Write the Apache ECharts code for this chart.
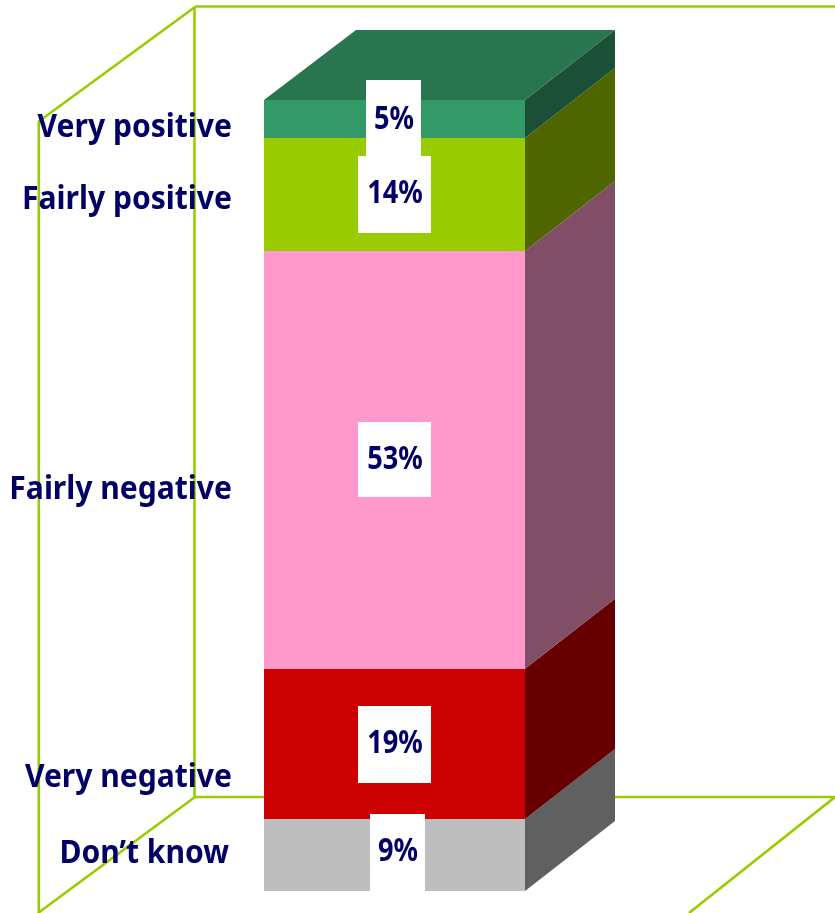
<!DOCTYPE html>
<html>
<head>
<meta charset="utf-8">
<style>
  html, body { margin: 0; padding: 0; background: #fff; }
  #chart { width: 835px; height: 913px; }
</style>
<script src="https://cdn.jsdelivr.net/npm/echarts@6/dist/echarts.min.js"></script>
</head>
<body>
<div id="chart"></div>
<script>
// bottom to top, same order as the stack
const categories = ["Don\u2019t know", "Very negative", "Fairly negative", "Fairly positive", "Very positive"];
// heights, the printed labels are these rounded
const values = [9.1, 19, 52.8, 14.3, 4.8];

const frontColors = ["#BEBEBE", "#CC0000", "#FF99CC", "#99CC00", "#339966"];
const sideColors = ["#606060", "#660000", "#804F66", "#4F6600", "#1C4F38"];
const topColor = "#29754F";
const frameColor = "#99CC00";
const textColor = "#000066";
const fontFamily = '"Noto Sans", sans-serif';

const depthX = 90;
const depthY = 70;

// label placement, picked by eye: they do not sit on the segment centres
const nameRight = [229, 232, 232, 232, 232];
const nameY = [854, 778, 490, 200, 128];
const boxes = [
  { x: 370, y: 814, w: 55, h: 77, textY: 852 },
  { x: 358, y: 706, w: 73, h: 77, textY: 744 },
  { x: 358, y: 422, w: 73, h: 75, textY: 460 },
  { x: 358, y: 156, w: 73, h: 77, textY: 194 },
  { x: 366, y: 80, w: 55, h: 76, textY: 120 }
];

// running totals for the stack
const stackData = [];
let total = 0;
values.forEach((v, i) => {
  stackData.push([i, total, total + v]);
  total += v;
});

function renderSegment(params, api) {
  const i = api.value(0);
  const a = api.coord([0, api.value(1)]);
  const b = api.coord([1, api.value(2)]);
  const children = [
    {
      type: "rect",
      shape: { x: a[0], y: b[1], width: b[0] - a[0], height: a[1] - b[1] },
      style: { fill: frontColors[i] }
    },
    {
      type: "polygon",
      shape: { points: [[b[0], a[1]], [b[0], b[1]], [b[0] + depthX, b[1] - depthY], [b[0] + depthX, a[1] - depthY]] },
      style: { fill: sideColors[i] }
    }
  ];
  if (i === categories.length - 1) {
    children.push({
      type: "polygon",
      shape: { points: [[a[0], b[1]], [b[0], b[1]], [b[0] + depthX, b[1] - depthY], [a[0] + depthX + 2, b[1] - depthY]] },
      style: { fill: topColor }
    });
  }
  return { type: "group", children: children };
}

function renderLabel(params, api) {
  const i = api.value(0);
  const box = boxes[i];
  return {
    type: "group",
    children: [
      {
        type: "rect",
        shape: { x: box.x, y: box.y, width: box.w, height: box.h },
        style: { fill: "#fff" }
      },
      {
        type: "text",
        x: box.x + box.w / 2 + 0.5,
        y: box.textY,
        scaleX: 0.85,
        style: {
          text: Math.round(values[i]) + "%",
          fill: textColor,
          font: "bold 32px " + fontFamily,
          align: "center",
          verticalAlign: "middle"
        }
      },
      {
        type: "text",
        x: nameRight[i],
        y: nameY[i],
        scaleX: 0.94,
        style: {
          text: categories[i],
          fill: textColor,
          font: "bold 32px " + fontFamily,
          align: "right",
          verticalAlign: "middle"
        }
      }
    ]
  };
}

function frameLine(x1, y1, x2, y2) {
  return {
    type: "line",
    silent: true,
    z: 0,
    shape: { x1: x1, y1: y1, x2: x2, y2: y2 },
    style: { stroke: frameColor, lineWidth: 2.6 }
  };
}

const myChart = echarts.init(document.getElementById("chart"), null, { renderer: "canvas" });

myChart.setOption({
  animation: false,
  backgroundColor: "#fff",
  grid: { left: 264, top: 100, width: 261, height: 791 },
  xAxis: { type: "value", min: 0, max: 1, show: false },
  yAxis: { type: "value", min: 0, max: 100, show: false },
  graphic: [
    frameLine(195, 6.5, 835, 6.5),
    frameLine(194.5, 7, 194.5, 797),
    frameLine(195, 7, 38, 122),
    frameLine(38.8, 122, 38.8, 913),
    frameLine(195, 797, 835, 797),
    frameLine(195, 797, 38, 913),
    frameLine(835, 797, 689, 913)
  ],
  series: [
    {
      type: "custom",
      renderItem: renderSegment,
      data: stackData,
      encode: { x: [], y: [1, 2] },
      silent: true,
      z: 2
    },
    {
      type: "custom",
      renderItem: renderLabel,
      data: stackData,
      encode: { x: [], y: [1, 2] },
      silent: true,
      z: 3
    }
  ]
});
</script>
</body>
</html>
